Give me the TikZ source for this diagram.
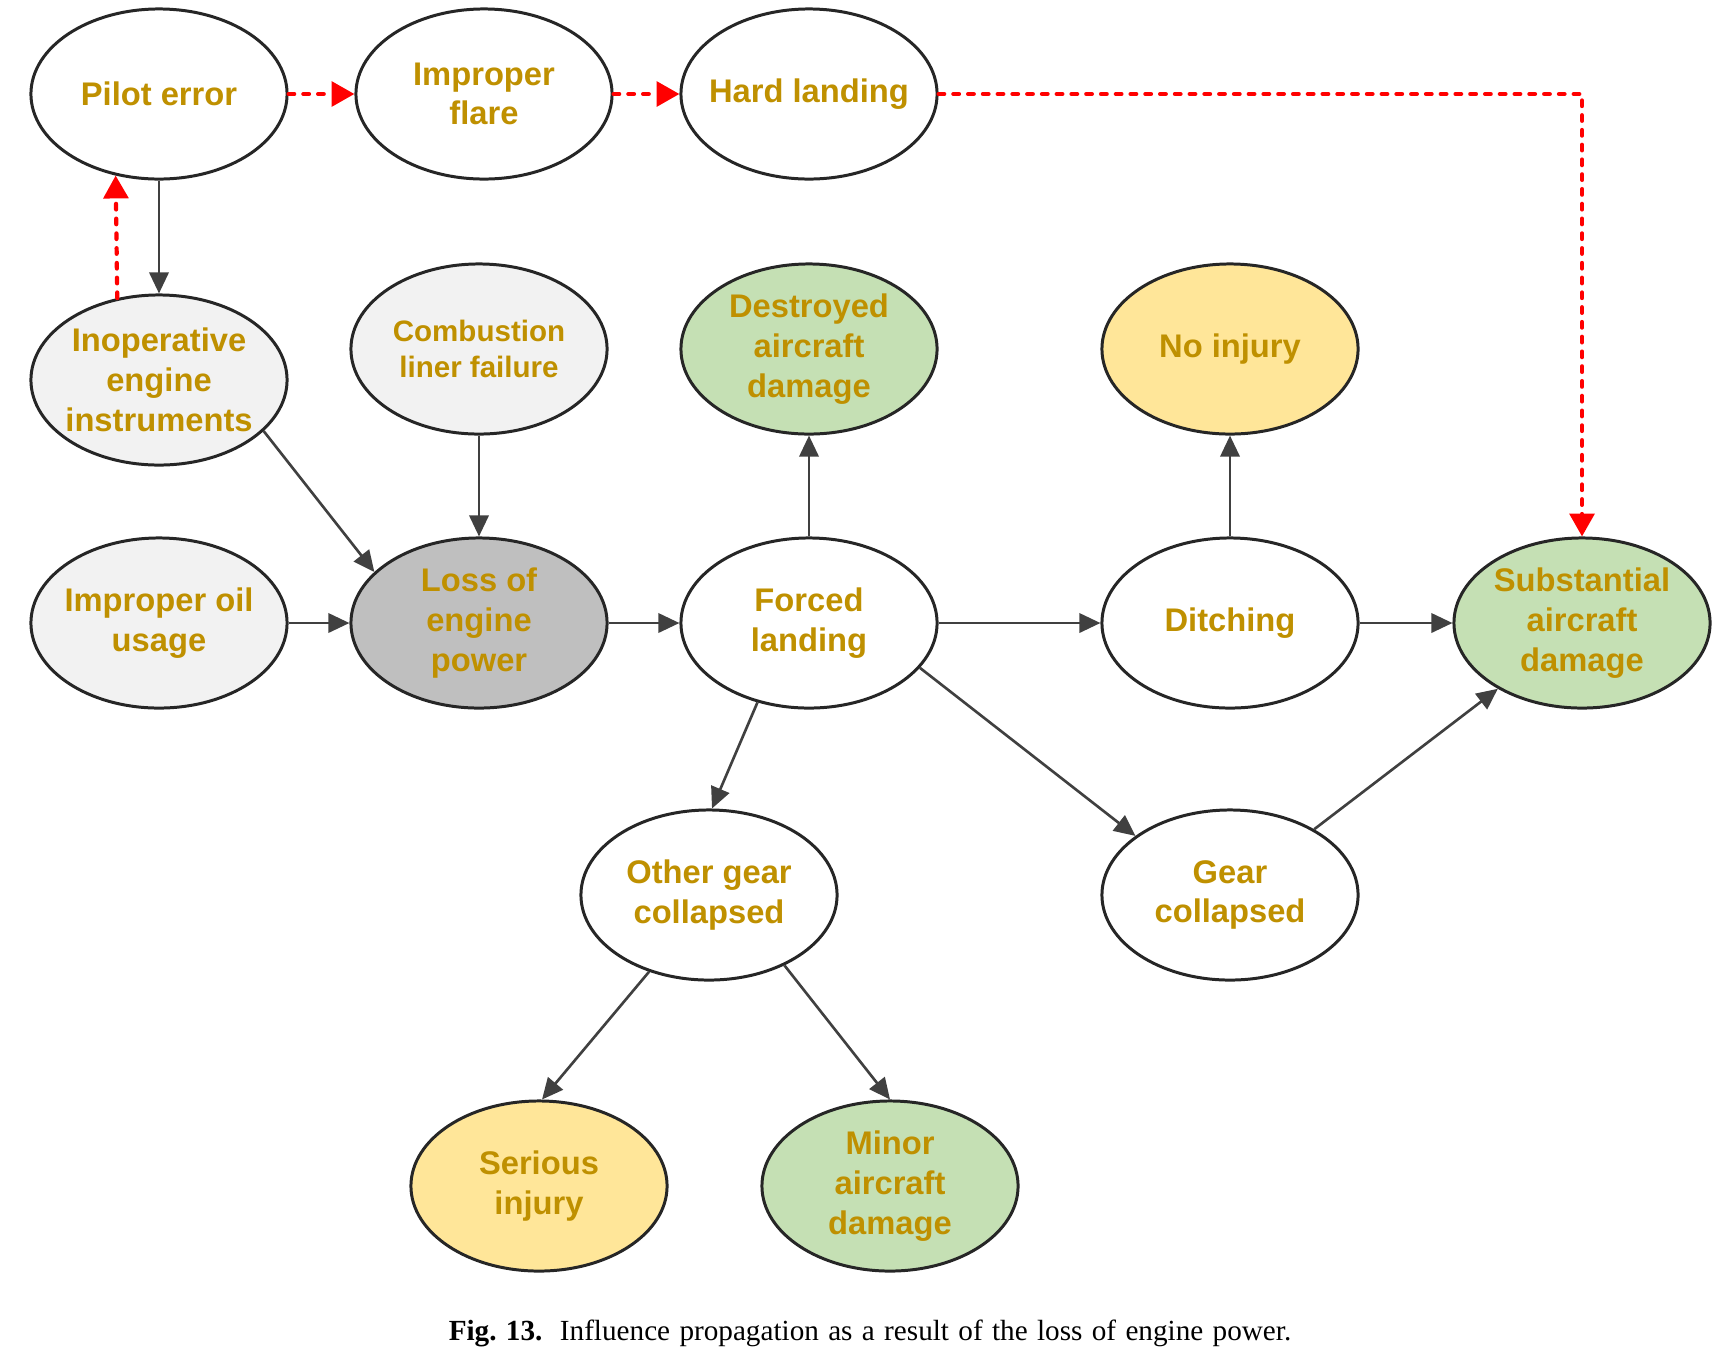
\documentclass[tikz,border=0pt]{standalone}
\usepackage{fontspec}
\setmainfont{Liberation Serif}
\newfontfamily\nodefont{Liberation Sans}
\usetikzlibrary{arrows.meta,shapes.geometric,calc}
\definecolor{gold}{HTML}{BF9000}
\definecolor{lgray}{HTML}{F2F2F2}
\definecolor{mgray}{HTML}{BFBFBF}
\definecolor{lgreen}{HTML}{C5E0B4}
\definecolor{lyellow}{HTML}{FFE699}
\definecolor{arrowgray}{HTML}{404040}
\definecolor{edgeblack}{HTML}{262626}
\begin{document}
\begin{tikzpicture}[x=0.01cm,y=-0.01cm,
  ev/.style={ellipse, draw=edgeblack, line width=0.85pt, fill=white,
    minimum width=2.56cm, minimum height=1.70cm, inner sep=-3pt,
    align=center, text=gold,
    font=\nodefont\bfseries\fontsize{9.3}{11.3}\selectfont},
  grayev/.style={ev, fill=lgray},
  darkev/.style={ev, fill=mgray},
  greenev/.style={ev, fill=lgreen},
  yellowev/.style={ev, fill=lyellow},
  link/.style={draw=arrowgray, line width=0.75pt,
    -{Triangle[length=6pt,width=5.5pt]}},
  redlink/.style={draw=red, line width=1.2pt, line cap=round,
    dash pattern=on 1.6pt off 2.6pt,
    -{Triangle[length=6.5pt,width=7pt,line cap=butt]}}]
\useasboundingbox (0,0) rectangle (1731,1369);

\node[ev] (pilot) at (159,94) {Pilot error};
\node[ev] (flare) at (484,94) {Improper\\flare};
\node[ev] (hard) at (809,94) {Hard landing};

\node[grayev] (inop) at (159,380) {Inoperative\\engine\\instruments};
\node[grayev, font=\nodefont\bfseries\fontsize{8.4}{10.2}\selectfont] (comb) at (479,349) {Combustion\\liner failure};
\node[greenev] (destr) at (809,349) {Destroyed\\aircraft\\damage};
\node[yellowev] (noinj) at (1230,349) {No injury};

\node[grayev] (oil) at (159,623) {Improper oil\\usage};
\node[darkev] (loss) at (479,623) {Loss of\\engine\\power};
\node[ev] (forced) at (809,623) {Forced\\landing};
\node[ev] (ditch) at (1230,623) {Ditching};
\node[greenev] (subst) at (1582,623) {Substantial\\aircraft\\damage};

\node[ev] (other) at (709,895) {Other gear\\collapsed};
\node[ev] (gear) at (1230,895) {Gear\\collapsed};

\node[yellowev] (serious) at (539,1186) {Serious\\injury};
\node[greenev] (minor) at (890,1186) {Minor\\aircraft\\damage};

% black connectors
\draw[link] (pilot.south) -- (inop.north);
\draw[link] (inop.334.4) -- (loss.154.4);
\draw[link] (comb.south) -- (loss.north);
\draw[link] (oil.east) -- (loss.west);
\draw[link] (loss.east) -- (forced.west);
\draw[link] (forced.north) -- (destr.south);
\draw[link] (forced.east) -- (ditch.west);
\draw[link] (ditch.north) -- (noinj.south);
\draw[link] (ditch.east) -- (subst.west);
\draw[link] (forced.237) -- (other.88);
\draw[link] (forced.338) -- (gear.148.6);
\draw[link] (gear.38.7) -- (subst.218.3);
\draw[link] (other.232) -- (serious.88.5);
\draw[link] (other.317.6) -- (minor.90);

% red dotted connectors
\draw[redlink] (pilot.east) -- (flare.west);
\draw[redlink] (flare.east) -- (hard.west);
\draw[redlink] (hard.east) -| (subst.north);
\draw[redlink] (inop.117.6) -- (pilot.242.4);

\node[font=\fontsize{8.3}{10}\selectfont, inner sep=0pt] (cap) at (870,1333)
  {\spaceskip=0.32em\textbf{Fig.\ 13.}\hspace{0.6em}Influence propagation as a result of the loss of engine power.};
\end{tikzpicture}
\end{document}
